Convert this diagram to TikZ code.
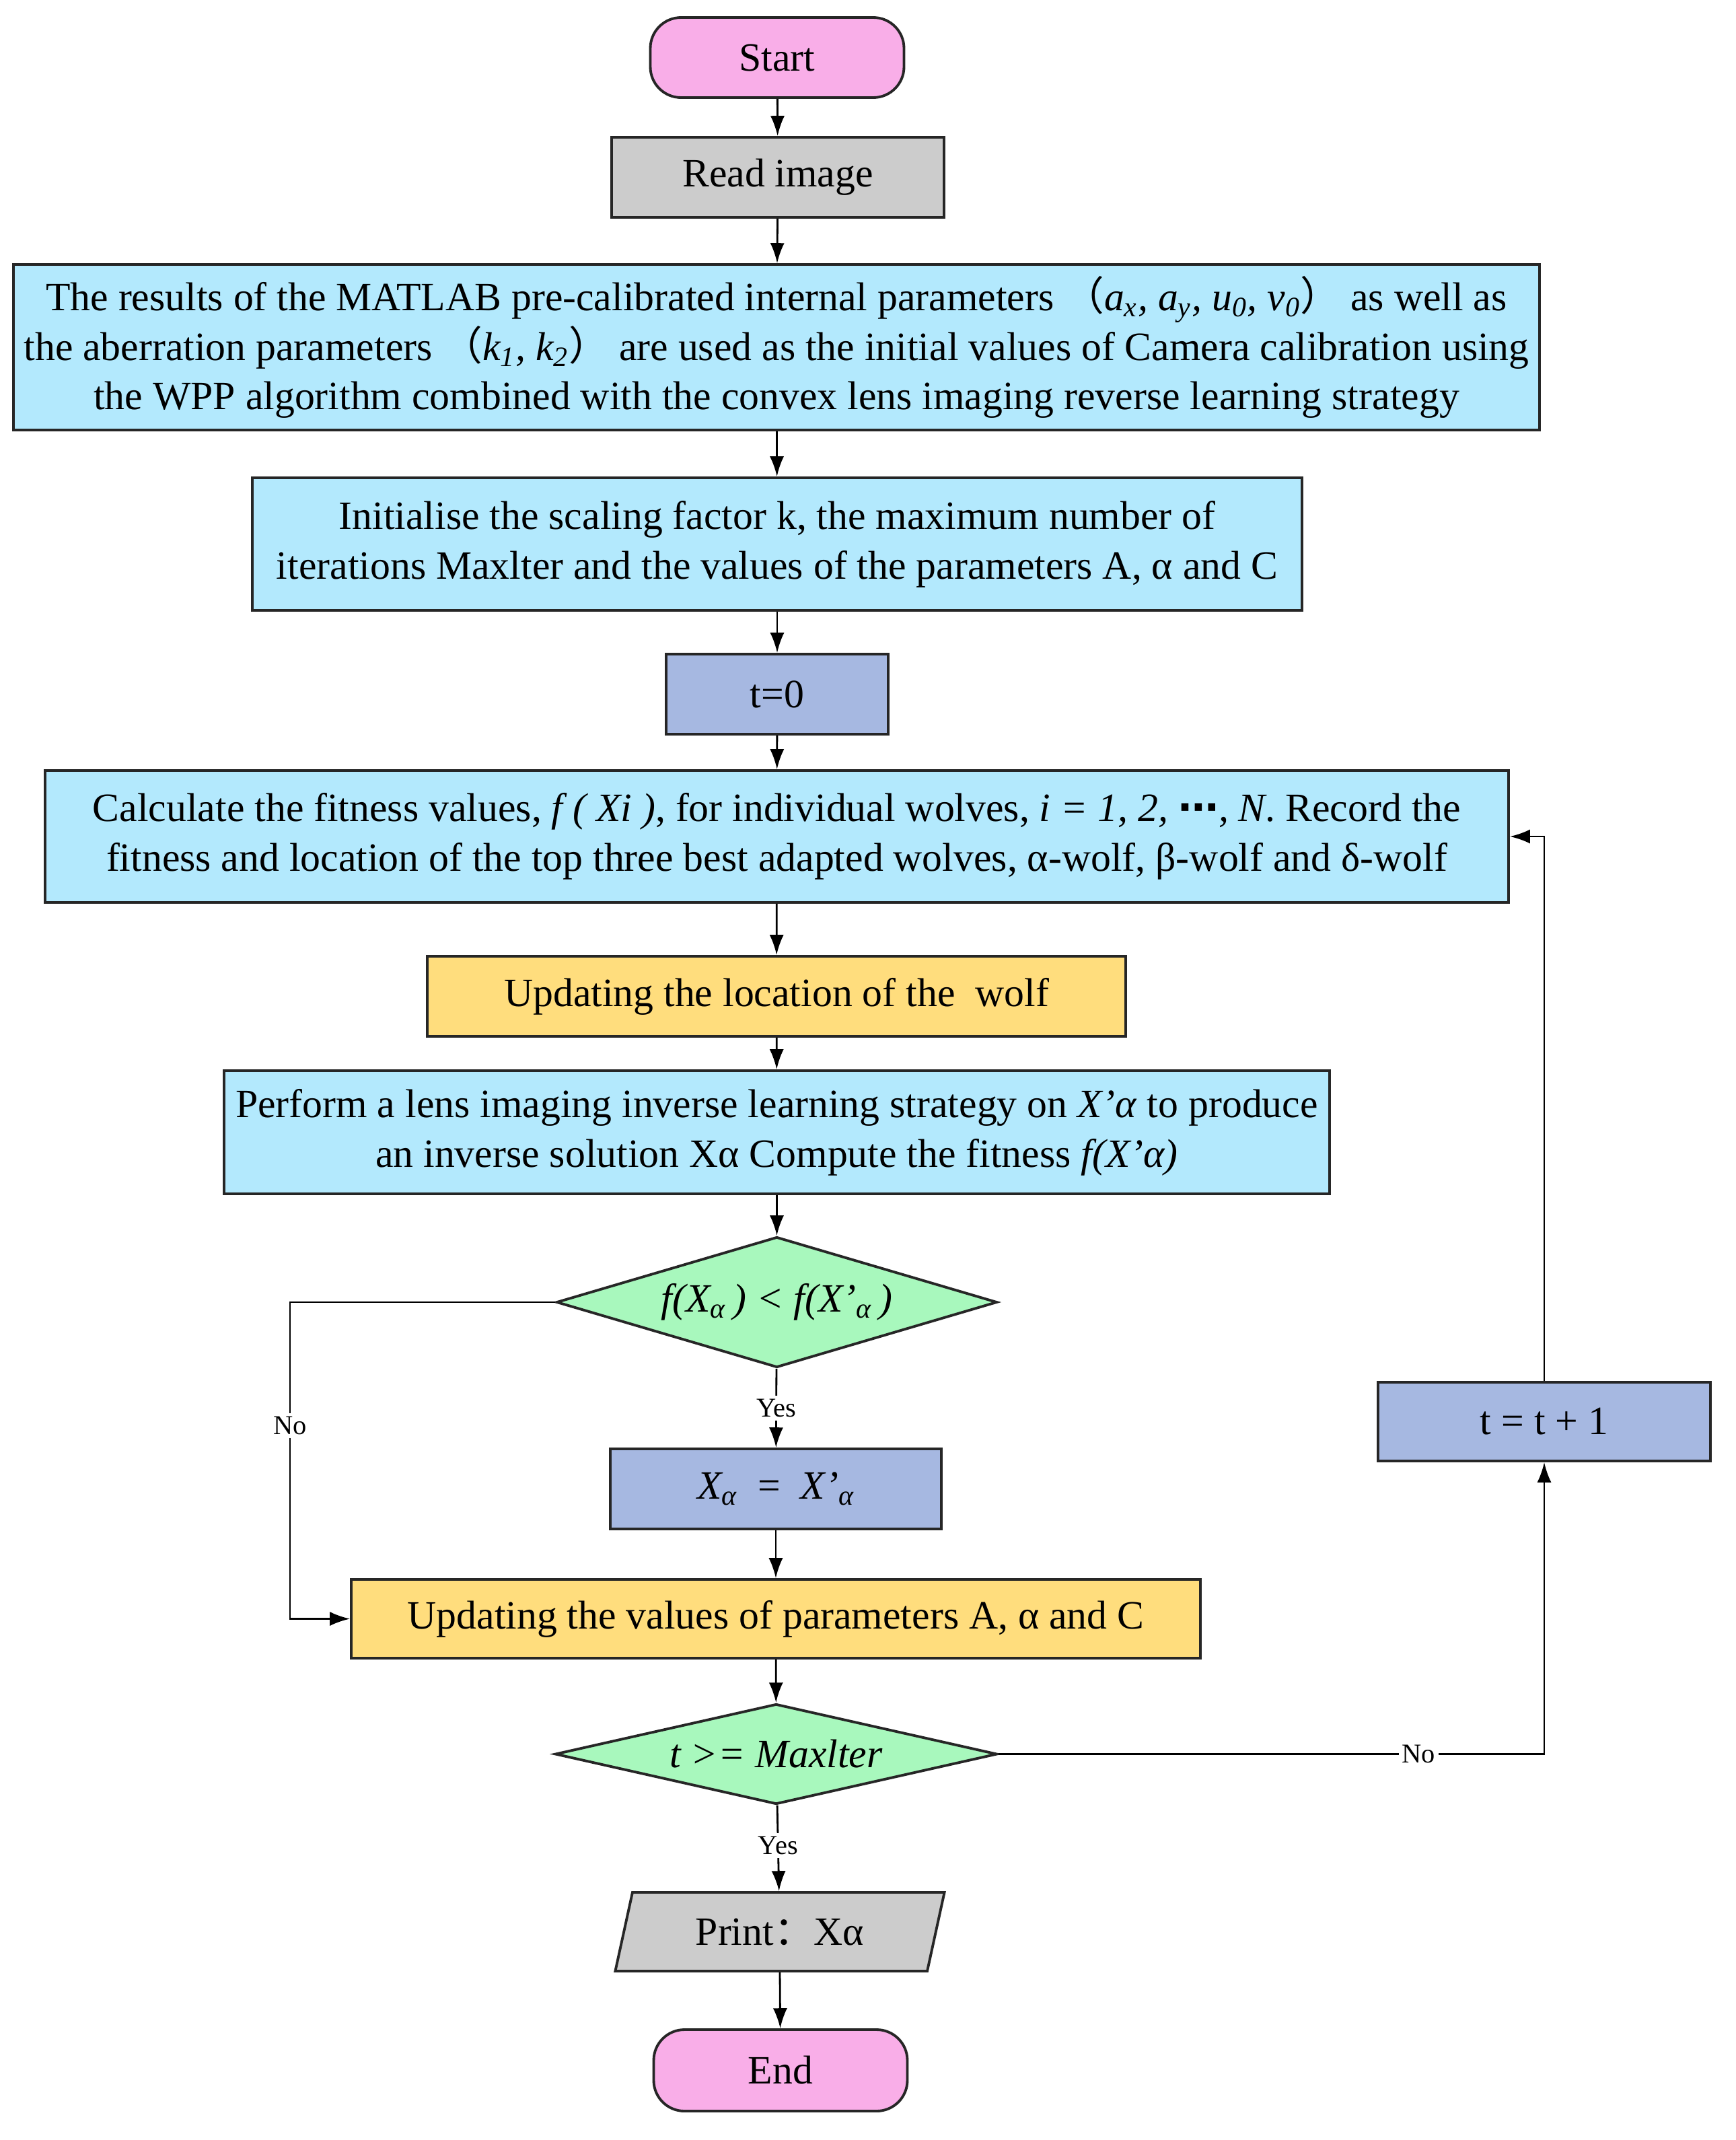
\documentclass[tikz,border=0pt]{standalone}
\usepackage{fontspec}
\setmainfont{Liberation Serif}
\newfontfamily\cjk{Noto Sans CJK SC}
\newfontfamily\dotsfont{DejaVu Sans}
\usepackage{tikz}
\usetikzlibrary{shapes.geometric}
\usetikzlibrary{arrows.meta}

\definecolor{termpink}{HTML}{F9AEE8}
\definecolor{iogray}{HTML}{CCCCCC}
\definecolor{procblue}{HTML}{B3E9FD}
\definecolor{stepblue}{HTML}{A6B8E1}
\definecolor{updyellow}{HTML}{FFDD7D}
\definecolor{testgreen}{HTML}{A8F8BD}

\begin{document}
\begin{tikzpicture}
    [
    box/.style={draw=black!85,line width=1.1pt,align=center,inner sep=0pt,
      font=\fontsize{17}{21}\selectfont},
    term/.style={box,fill=termpink,rounded corners=13pt,minimum width=3.77cm,minimum height=1.19cm},
    proc/.style={box,fill=procblue},
    stepbox/.style={box,fill=stepblue},
    upd/.style={box,fill=updyellow},
    test/.style={box,diamond,aspect=3.4,fill=testgreen,font=\itshape\fontsize{17}{21}\selectfont},
    flow/.style={-{Latex[length=8.5pt,width=6pt]},line width=0.8pt},
    lbl/.style={fill=white,inner sep=1.5pt,font=\fontsize{11.5}{13}\selectfont},
    ]
    \fill [white] (0,0) rectangle (25.8,-31.8);
    \useasboundingbox (0,0) rectangle (25.8,-31.8);

    \node (start) at (11.55,-0.855) [term] {Start};
    \node (read) at (11.56,-2.635) [box,fill=iogray,minimum width=4.94cm,minimum height=1.19cm] {Read image};
    \node (calib) at (11.54,-5.16) [proc,minimum width=22.68cm,minimum height=2.46cm]
      {The results of the MATLAB pre-calibrated internal parameters {\cjk （}\textit{a\textsubscript{x}, a\textsubscript{y}, u\textsubscript{0}, v\textsubscript{0}}{\cjk ）} as well as\\
       the aberration parameters {\cjk （}\textit{k\textsubscript{1}, k\textsubscript{2}}{\cjk ）} are used as the initial values of Camera calibration using\\
       the WPP algorithm combined with the convex lens imaging reverse learning strategy};
    \node (init) at (11.55,-8.085) [proc,minimum width=15.6cm,minimum height=1.97cm]
      {Initialise the scaling factor k, the maximum number of\\
       iterations Maxlter and the values of the parameters A, α and C};
    \node (tzero) at (11.55,-10.315) [stepbox,minimum width=3.3cm,minimum height=1.19cm] {t=0};
    \node (fit) at (11.545,-12.43) [proc,minimum width=21.75cm,minimum height=1.96cm]
      {Calculate the fitness values, \textit{f ( Xi )}, for individual wolves, \textit{i = 1, 2,} {\dotsfont\bfseries ⋯}\textit{, N}. Record the\\
       fitness and location of the top three best adapted wolves, α-wolf, β-wolf and δ-wolf};
    \node (loc) at (11.54,-14.805) [upd,minimum width=10.38cm,minimum height=1.19cm] {Updating the location of the\ \ wolf};
    \node (lens) at (11.545,-16.825) [proc,minimum width=16.43cm,minimum height=1.83cm]
      {Perform a lens imaging inverse learning strategy on \textit{X’α} to produce\\
       an inverse solution Xα Compute the fitness \textit{f(X’α)}};
    \node (cmp1) at (11.545,-19.35) [test,minimum width=6.55cm,minimum height=1.94cm]
      {f(X\textsubscript{α}\,) < f(X’\textsubscript{α}\,)};
    \node (swap) at (11.53,-22.125) [stepbox,minimum width=4.92cm,minimum height=1.19cm]
      {\textit{X\textsubscript{α}}\ \ =\ \ \textit{X’\textsubscript{α}}};
    \node (params) at (11.53,-24.055) [upd,minimum width=12.62cm,minimum height=1.17cm]
      {Updating the values of parameters A, α and C};
    \node (cmp2) at (11.535,-26.065) [test,minimum width=6.57cm,minimum height=1.49cm] {t >= Maxlter};
    \node (inc) at (22.95,-21.125) [stepbox,minimum width=4.94cm,minimum height=1.17cm] {t = t + 1};
    \node (prt) at (11.59,-28.705) [box,fill=iogray,trapezium,trapezium left angle=70,
      trapezium right angle=110,trapezium stretches=true,minimum width=4.92cm,minimum height=1.17cm]
      {Print{\cjk ：}Xα};
    \node (end) at (11.6,-30.765) [term,minimum height=1.21cm] {End};

    \draw [flow] (start) to (read);
    \draw [flow] (read) to (calib);
    \draw [flow] (calib) to (init);
    \draw [flow] (init) to (tzero);
    \draw [flow] (tzero) to (fit);
    \draw [flow] (fit) to (loc);
    \draw [flow] (loc) to (lens);
    \draw [flow] (lens) to (cmp1);
    \draw [flow] (cmp1) to node [lbl] {Yes} (swap);
    \draw [flow] (swap) to (params);
    \draw [flow] (params) to (cmp2);
    \draw [flow] (cmp2) to node [lbl,pos=0.47] {Yes} (prt);
    \draw [flow] (prt.south) to (end);

    % No branches
    \coordinate (nobend) at (4.31,-19.35);
    \draw [flow] (cmp1.west) -- (nobend) -- node [lbl,pos=0.39] {No} (nobend |- params.west) -- (params.west);
    \draw [flow] (cmp2.east) -- node [lbl,pos=0.77] {No} (inc.south |- cmp2.east) -- (inc.south);
    \draw [flow] (inc.north) -- (inc.north |- fit.east) -- (fit.east);
\end{tikzpicture}
\end{document}
